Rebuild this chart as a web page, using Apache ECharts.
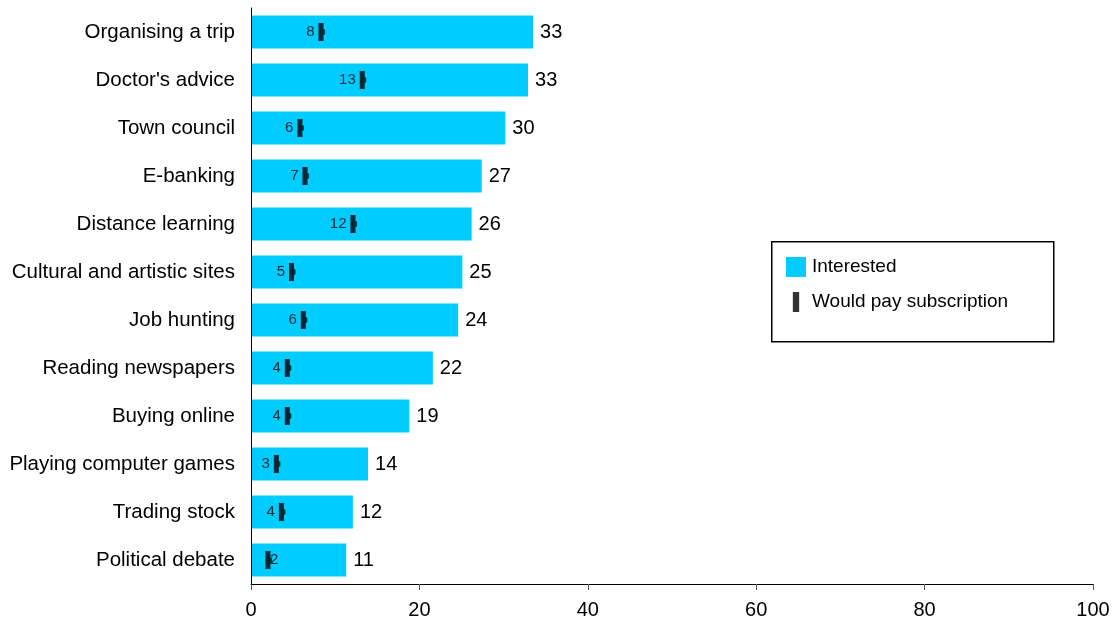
<!DOCTYPE html>
<html><head><meta charset="utf-8">
<script src="https://cdn.jsdelivr.net/npm/echarts@6/dist/echarts.min.js"></script>
<style>html,body{margin:0;padding:0;background:#fff}#c{width:1117px;height:628px}</style>
</head><body><div id="c"></div>
<script>
var categories = ["Organising a trip","Doctor's advice","Town council","E-banking","Distance learning","Cultural and artistic sites","Job hunting","Reading newspapers","Buying online","Playing computer games","Trading stock","Political debate"];
var interested = [33.5, 32.9, 30.2, 27.4, 26.2, 25.1, 24.6, 21.6, 18.8, 13.9, 12.1, 11.3];
var interestedLabels = [33, 33, 30, 27, 26, 25, 24, 22, 19, 14, 12, 11];
var subscription = [8.4, 13.3, 5.9, 6.5, 12.2, 4.9, 6.3, 4.4, 4.4, 3.1, 3.7, 2.1];
var subscriptionLabels = [8, 13, 6, 7, 12, 5, 6, 4, 4, 3, 4, 2];
var xTicks = [0, 20, 40, 60, 80, 100];

var FONT = "'Liberation Sans', Arial, sans-serif";
var chart = echarts.init(document.getElementById('c'), null, {renderer: 'canvas'});
var markerPath = 'path://M0,0 L5,0 L5,6 L6.5,7 L6.5,11 L5,12 L5,18 L0,18 Z';
var legendMarker = 'path://M0,0 L6,0 L6,19 L0,19 Z';
chart.setOption({
  animation: false,
  backgroundColor: '#fff',
  textStyle: {fontFamily: FONT},
  grid: {left: 251, right: 24, top: 8, bottom: 44, containLabel: false},
  xAxis: {
    type: 'value', min: xTicks[0], max: xTicks[xTicks.length-1], interval: 20,
    splitLine: {show: false},
    axisLine: {show: true, lineStyle: {color: '#000', width: 1}},
    axisTick: {show: true, length: 6, lineStyle: {color: '#555'}},
    axisLabel: {color: '#000', fontSize: 20, margin: 16, fontFamily: FONT}
  },
  yAxis: {
    type: 'category', data: categories, inverse: true, z: 4,
    axisLine: {show: true, lineStyle: {color: '#000', width: 1}},
    axisTick: {show: false},
    axisLabel: {color: '#000', fontSize: 20.5, margin: 16, fontFamily: FONT, padding: [2, 0, 0, 0]}
  },
  legend: {
    orient: 'vertical', left: 781, top: 252, itemGap: 15,
    itemWidth: 20, itemHeight: 20,
    textStyle: {color: '#000', fontSize: 19, fontFamily: FONT, padding: [0, 0, 0, 1]},
    data: [
      {name: 'Interested', icon: 'rect'},
      {name: 'Would pay subscription', icon: legendMarker}
    ]
  },
  graphic: [{
    type: 'rect', left: 771, top: 241, z: -1,
    shape: {width: 282, height: 100},
    style: {fill: '#fff', stroke: '#000', lineWidth: 1.5}
  }],
  series: [
    {
      name: 'Interested', type: 'bar', data: interested, barWidth: 33,
      itemStyle: {color: '#00CCFF'},
      label: {show: true, position: 'right', distance: 7, color: '#000', fontSize: 20, fontFamily: FONT,
        formatter: function(p){ return interestedLabels[p.dataIndex]; }}
    },
    {
      name: 'Would pay subscription', type: 'scatter',
      data: subscription.map(function(v, i){
        var d = {value: v};
        if (i === subscription.length - 1) d.label = {position: 'right', distance: -2};
        return d;
      }),
      symbol: markerPath, symbolSize: [6.5, 18], z: 5,
      itemStyle: {color: '#000'},
      label: {show: true, position: 'left', distance: 4, color: '#000', fontSize: 15, fontFamily: FONT,
        padding: [2, 0, 0, 0],
        formatter: function(p){ return subscriptionLabels[p.dataIndex]; }}
    }
  ]
});
</script></body></html>
